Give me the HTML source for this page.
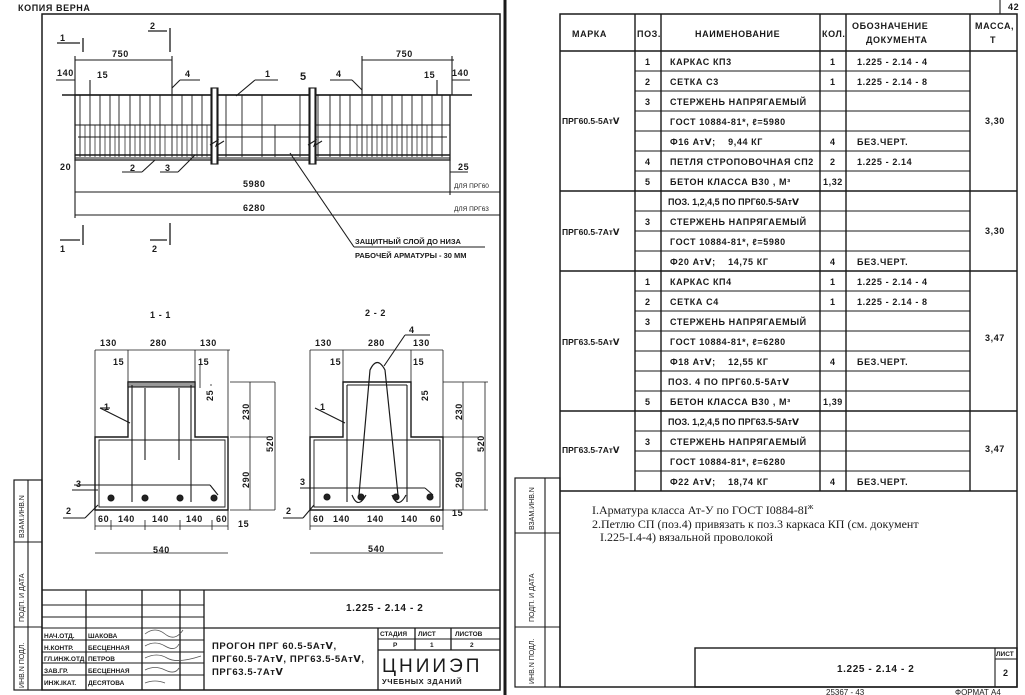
<!DOCTYPE html>
<html><head><meta charset="utf-8"><style>
html,body{margin:0;padding:0;background:#fff;}
svg{display:block;font-family:"Liberation Sans Narrow","Liberation Sans","DejaVu Sans",sans-serif;}
text{fill:#1a1a1a;}
.t{font-size:9px;letter-spacing:0.6px;font-weight:bold;}
.s{font-size:7.5px;}
.n{font-family:"Liberation Serif","DejaVu Serif",serif;font-size:12px;fill:#111;}
</style></head><body>
<svg width="1025" height="695" viewBox="0 0 1025 695" xmlns="http://www.w3.org/2000/svg" stroke="#1a1a1a" stroke-width="1.1" fill="none">
<!-- ================= LEFT SHEET ================= -->
<text x="18" y="11" class="t" stroke="none" fill="#666">КОПИЯ ВЕРНА</text>
<rect x="42" y="14" width="458" height="676" stroke-width="1.5"/>
<line x1="505" y1="0" x2="505" y2="695" stroke-width="3"/>
<!-- left strip -->
<rect x="14" y="480" width="28" height="210" stroke-width="1.2"/>
<line x1="28" y1="480" x2="28" y2="690"/>
<line x1="14" y1="542" x2="42" y2="542"/><line x1="14" y1="627" x2="42" y2="627"/>
<g stroke="none" font-size="7" fill="#222">
<text transform="translate(24,538) rotate(-90)">ВЗАМ.ИНВ.N</text>
<text transform="translate(24,622) rotate(-90)">ПОДП. И ДАТА</text>
<text transform="translate(24,688) rotate(-90)">ИНВ.N ПОДЛ.</text>
</g>
<!-- section marks -->
<g stroke-width="1.3">
<line x1="83" y1="38" x2="83" y2="52"/><line x1="57" y1="43" x2="80" y2="43"/>
<line x1="170" y1="28" x2="170" y2="52"/><line x1="148" y1="31" x2="167" y2="31"/>
<line x1="83" y1="225" x2="83" y2="245"/><line x1="60" y1="240" x2="80" y2="240"/>
<line x1="170" y1="223" x2="170" y2="245"/><line x1="150" y1="240" x2="167" y2="240"/>
</g>
<g stroke="none" class="t"><text x="60" y="41">1</text><text x="150" y="29">2</text><text x="60" y="252">1</text><text x="152" y="252">2</text></g>
<!-- dims top -->
<line x1="75" y1="60" x2="172" y2="60"/><line x1="75" y1="56" x2="75" y2="95"/><line x1="172" y1="56" x2="172" y2="95"/>
<line x1="362" y1="60" x2="454" y2="60"/><line x1="362" y1="56" x2="362" y2="95"/><line x1="452" y1="56" x2="452" y2="95"/>
<g stroke="none" class="t"><text x="112" y="57">750</text><text x="396" y="57">750</text>
<text x="57" y="76">140</text><text x="97" y="78">15</text><text x="424" y="78">15</text><text x="452" y="76">140</text>
<text x="185" y="77">4</text><text x="265" y="77">1</text><text x="300" y="80" font-size="11">5</text><text x="336" y="77">4</text>
<text x="130" y="171">2</text><text x="165" y="171">3</text><text x="60" y="170">20</text><text x="458" y="170">25</text>
<text x="243" y="187">5980</text><text x="243" y="211">6280</text></g>
<line x1="56" y1="80" x2="75" y2="80"/><line x1="452" y1="80" x2="470" y2="80"/>
<line x1="180" y1="80" x2="200" y2="80"/><line x1="172" y1="88" x2="180" y2="80"/>
<line x1="255" y1="80" x2="278" y2="80"/><line x1="236" y1="96" x2="255" y2="80"/>
<line x1="330" y1="80" x2="352" y2="80"/><line x1="352" y1="80" x2="362" y2="90"/>
<line x1="90" y1="80" x2="90" y2="95"/><line x1="437" y1="80" x2="437" y2="95"/>
<!-- beam -->
<line x1="62" y1="95" x2="472" y2="95" stroke-width="1.4"/>
<rect x="75" y="95" width="375" height="65" stroke-width="1.3"/>
<line x1="75" y1="125" x2="450" y2="125"/><line x1="78" y1="137" x2="447" y2="137"/>
<line x1="75" y1="155" x2="450" y2="155" stroke-width="1.6"/><line x1="75" y1="158" x2="450" y2="158"/>
<path d="M80 95V157M90 95V157M100 95V157M110 95V157M119 95V157M130 95V157M140 95V157M150 95V157M160 95V157M172 95V157M182 95V157M192 95V157M202 95V157M226 95V157M242 95V157M262 95V157M275 125V157M300 95V157M318 95V157M330 95V157M340 95V157M350 95V157M362 95V157M372 95V157M382 95V157M392 95V157M402 95V157M412 95V157M422 95V157M432 95V157M442 95V157" stroke-width="0.9"/>
<path d="M85 125V157M95 125V157M105 125V157M115 125V157M125 125V157M135 125V157M145 125V157M155 125V157M165 125V157M177 125V157M187 125V157M197 125V157M207 125V157M357 125V157M367 125V157M377 125V157M387 125V157M397 125V157M407 125V157M417 125V157M427 125V157" stroke-width="0.7"/>
<rect x="211" y="88" width="7" height="76" fill="#fff"/><line x1="212" y1="88" x2="212" y2="164"/><line x1="217" y1="88" x2="217" y2="164"/>
<rect x="309" y="88" width="7" height="76" fill="#fff"/><line x1="310" y1="88" x2="310" y2="164"/><line x1="315" y1="88" x2="315" y2="164"/>
<path d="M210 145l8-5-2 6 8-5" /><path d="M308 145l8-5-2 6 8-5"/>
<line x1="122" y1="172" x2="142" y2="172"/><line x1="142" y1="172" x2="155" y2="160"/>
<line x1="160" y1="172" x2="178" y2="172"/><line x1="178" y1="172" x2="195" y2="155"/>
<!-- bottom dims -->
<line x1="75" y1="192" x2="500" y2="192"/><line x1="75" y1="215" x2="500" y2="215"/>
<line x1="75" y1="160" x2="75" y2="218"/><line x1="450" y1="160" x2="450" y2="195"/>
<line x1="450" y1="172" x2="468" y2="172"/>
<g stroke="none" font-size="6.5"><text x="454" y="188">ДЛЯ ПРГ60</text><text x="454" y="211">ДЛЯ ПРГ63</text></g>
<line x1="290" y1="153" x2="354" y2="247"/><line x1="354" y1="247" x2="485" y2="247"/>
<g stroke="none" font-size="7.5" font-weight="bold"><text x="355" y="244">ЗАЩИТНЫЙ СЛОЙ ДО НИЗА</text><text x="355" y="258">РАБОЧЕЙ АРМАТУРЫ - 30 ММ</text></g>
<!-- section titles -->
<g stroke="none" class="t" font-size="10"><text x="150" y="318">1 - 1</text><text x="365" y="316">2 - 2</text>
<text x="100" y="346">130</text><text x="150" y="346">280</text><text x="200" y="346">130</text>
<text x="315" y="346">130</text><text x="368" y="346">280</text><text x="413" y="346">130</text></g>
<!-- section 1-1 -->
<g stroke-width="1.4">
<path d="M128 382H195V437H228V510H95V437H128Z"/>
<path d="M131 385H192M99 440H225V507H99Z" stroke-width="0.9"/>
</g>
<rect x="128" y="382" width="67" height="5" fill="#999"/>
<line x1="132" y1="385" x2="132" y2="502"/><line x1="191" y1="385" x2="191" y2="502"/>
<line x1="145" y1="388" x2="145" y2="460"/><line x1="179" y1="388" x2="179" y2="460"/>
<line x1="72" y1="490" x2="98" y2="490"/><line x1="74" y1="485" x2="210" y2="485"/><line x1="210" y1="485" x2="218" y2="495"/>
<line x1="100" y1="408" x2="130" y2="423"/><line x1="100" y1="408" x2="110" y2="408"/>
<line x1="63" y1="518" x2="85" y2="518"/><line x1="85" y1="518" x2="98" y2="505"/>
<g fill="#222"><circle cx="111" cy="498" r="3"/><circle cx="145" cy="498" r="3"/><circle cx="180" cy="498" r="3"/><circle cx="214" cy="498" r="3"/></g>
<path d="M95 350H230M95 350V530M128 350V382M195 350V382M228 350V530M95 526H228M95 553H228M145 520V530M180 520V530M212 520V530M111 520V530M250 382V510M230 382H275M230 437H270M230 510H275M275 382V510M210 385H212M200 365V388" stroke-width="0.8"/>
<g stroke="none" class="t"><text x="113" y="365">15</text><text x="198" y="365">15</text><text x="238" y="527">15</text><text x="104" y="410">1</text>
<text x="76" y="487">3</text><text x="66" y="514">2</text>
<text x="98" y="522">60</text><text x="118" y="522">140</text><text x="152" y="522">140</text><text x="186" y="522">140</text><text x="216" y="522">60</text>
<text x="153" y="553">540</text>
<text transform="translate(249,420) rotate(-90)">230</text><text transform="translate(249,488) rotate(-90)">290</text><text transform="translate(273,452) rotate(-90)">520</text><text transform="translate(213,401) rotate(-90)">25</text></g>
<!-- section 2-2 -->
<g stroke-width="1.4">
<path d="M343 382H411V437H443V510H310V437H343Z"/>
<path d="M347 385H407M314 440H440V507H314Z" stroke-width="0.9"/>
</g>
<path d="M359 495L370 370Q377 355 385 370L398 495" stroke-width="1.2"/>
<path d="M352 495Q358 510 366 495M392 495Q398 510 406 495"/>
<line x1="347" y1="385" x2="347" y2="502"/><line x1="407" y1="385" x2="407" y2="502"/>
<line x1="384" y1="366" x2="405" y2="335"/><line x1="405" y1="335" x2="430" y2="335"/>
<line x1="300" y1="488" x2="425" y2="488"/><line x1="425" y1="488" x2="433" y2="495"/>
<line x1="315" y1="408" x2="345" y2="423"/>
<line x1="283" y1="518" x2="303" y2="518"/><line x1="303" y1="518" x2="314" y2="505"/>
<g fill="#222"><circle cx="327" cy="497" r="3"/><circle cx="361" cy="497" r="3"/><circle cx="396" cy="497" r="3"/><circle cx="430" cy="497" r="3"/></g>
<path d="M310 350H443M310 350V530M343 350V382M411 350V382M443 350V530M310 526H443M310 553H443M463 382V510M443 382H488M443 437H478M443 510H488M485 382V510" stroke-width="0.8"/>
<g stroke="none" class="t"><text x="330" y="365">15</text><text x="413" y="365">15</text><text x="452" y="516">15</text><text x="320" y="410">1</text><text x="409" y="333">4</text>
<text x="300" y="485">3</text><text x="286" y="514">2</text>
<text x="313" y="522">60</text><text x="333" y="522">140</text><text x="367" y="522">140</text><text x="401" y="522">140</text><text x="430" y="522">60</text>
<text x="368" y="552">540</text>
<text transform="translate(462,420) rotate(-90)">230</text><text transform="translate(462,488) rotate(-90)">290</text><text transform="translate(484,452) rotate(-90)">520</text><text transform="translate(428,401) rotate(-90)">25</text></g>
<!-- title block -->
<g stroke-width="1.3">
<line x1="42" y1="590" x2="500" y2="590"/><line x1="204" y1="628" x2="500" y2="628"/>
<line x1="86" y1="590" x2="86" y2="690"/><line x1="142" y1="590" x2="142" y2="690"/><line x1="180" y1="590" x2="180" y2="690"/><line x1="204" y1="590" x2="204" y2="690"/>
<line x1="378" y1="628" x2="378" y2="690"/><line x1="378" y1="650" x2="500" y2="650"/>
<line x1="415" y1="628" x2="415" y2="650"/><line x1="451" y1="628" x2="451" y2="650"/>
</g>
<path d="M42 605H204M42 617H204M42 628H204M42 640H204M42 652H204M42 663H204M42 675H204" stroke-width="0.9"/>
<line x1="378" y1="639" x2="500" y2="639" stroke-width="0.9"/>
<g stroke="none" font-size="6.5" font-weight="bold"><text x="44" y="638">НАЧ.ОТД.</text><text x="44" y="650">Н.КОНТР.</text><text x="44" y="661">ГЛ.ИНЖ.ОТД</text><text x="44" y="673">ЗАВ.ГР.</text><text x="44" y="685">ИНЖ.IКАТ.</text>
<text x="88" y="638">ШАКОВА</text><text x="88" y="650">БЕСЦЕННАЯ</text><text x="88" y="661">ПЕТРОВ</text><text x="88" y="673">БЕСЦЕННАЯ</text><text x="88" y="685">ДЕСЯТОВА</text>
<text x="380" y="636">СТАДИЯ</text><text x="418" y="636">ЛИСТ</text><text x="455" y="636">ЛИСТОВ</text><text x="393" y="647">Р</text><text x="430" y="647">1</text><text x="470" y="647">2</text></g>
<g stroke="none" class="t"><text x="346" y="611" font-size="10">1.225 - 2.14 - 2</text>
<text x="212" y="649" font-size="9.5">ПРОГОН ПРГ 60.5-5АтⅤ,</text><text x="212" y="662" font-size="9.5">ПРГ60.5-7АтⅤ, ПРГ63.5-5АтⅤ,</text><text x="212" y="675" font-size="9.5">ПРГ63.5-7АтⅤ</text>
<text x="382" y="672" font-size="19" font-weight="normal" letter-spacing="3">ЦНИИЭП</text><text x="382" y="684" font-size="7.5">УЧЕБНЫХ ЗДАНИЙ</text></g>
<g stroke="#555" stroke-width="0.8"><path d="M145 634q10-8 20 0t18-4M145 646q10-6 20 0t14-2M145 658q12-6 22 0t34-2M145 670q10-5 20 0t14-2M145 683q10-4 20 0"/></g>

<!-- ================= RIGHT SHEET ================= -->
<line x1="1000" y1="0" x2="1000" y2="14"/><text x="1008" y="10" class="t" stroke="none">42</text>
<rect x="560" y="14" width="457" height="673" stroke-width="1.5"/>
<rect x="515" y="478" width="45" height="209" stroke-width="1.2"/>
<line x1="545" y1="478" x2="545" y2="687"/>
<line x1="515" y1="533" x2="560" y2="533"/><line x1="515" y1="627" x2="560" y2="627"/>
<g stroke="none" font-size="7" fill="#222">
<text transform="translate(534,530) rotate(-90)">ВЗАМ.ИНВ.N</text>
<text transform="translate(534,622) rotate(-90)">ПОДП. И ДАТА</text>
<text transform="translate(534,684) rotate(-90)">ИНВ.N ПОДЛ.</text>
</g>
<!-- table -->
<g stroke-width="1.4">
<line x1="560" y1="51" x2="1017" y2="51"/><line x1="560" y1="191" x2="1017" y2="191"/><line x1="560" y1="271" x2="1017" y2="271"/><line x1="560" y1="411" x2="1017" y2="411"/><line x1="560" y1="491" x2="1017" y2="491"/>
<line x1="635" y1="14" x2="635" y2="491"/><line x1="661" y1="14" x2="661" y2="491"/><line x1="820" y1="14" x2="820" y2="491"/><line x1="846" y1="14" x2="846" y2="491"/><line x1="970" y1="14" x2="970" y2="491"/>
</g>
<path d="M635 71H970M635 91H970M635 111H970M635 131H970M635 151H970M635 171H970M635 211H970M635 231H970M635 251H970M635 291H970M635 311H970M635 331H970M635 351H970M635 371H970M635 391H970M635 431H970M635 451H970M635 471H970" stroke-width="1"/>
<g stroke="none" class="t">
<text x="572" y="37">МАРКА</text><text x="637" y="37">ПОЗ.</text><text x="695" y="37">НАИМЕНОВАНИЕ</text><text x="822" y="37">КОЛ.</text><text x="852" y="29">ОБОЗНАЧЕНИЕ</text><text x="866" y="43">ДОКУМЕНТА</text><text x="975" y="29">МАССА,</text><text x="990" y="43">Т</text>
<text x="562" y="124" font-size="8.5" letter-spacing="0">ПРГ60.5-5АтⅤ</text><text x="985" y="124">3,30</text>
<text x="562" y="235" font-size="8.5" letter-spacing="0">ПРГ60.5-7АтⅤ</text><text x="985" y="234">3,30</text>
<text x="562" y="345" font-size="8.5" letter-spacing="0">ПРГ63.5-5АтⅤ</text><text x="985" y="341">3,47</text>
<text x="562" y="453" font-size="8.5" letter-spacing="0">ПРГ63.5-7АтⅤ</text><text x="985" y="452">3,47</text>
<!-- group1 -->
<text x="645" y="65">1</text><text x="670" y="65">КАРКАС КП3</text><text x="830" y="65">1</text><text x="857" y="65">1.225 - 2.14 - 4</text>
<text x="645" y="85">2</text><text x="670" y="85">СЕТКА С3</text><text x="830" y="85">1</text><text x="857" y="85">1.225 - 2.14 - 8</text>
<text x="645" y="105">3</text><text x="670" y="105">СТЕРЖЕНЬ НАПРЯГАЕМЫЙ</text>
<text x="670" y="125">ГОСТ 10884-81*, ℓ=5980</text>
<text x="670" y="145">Ф16 АтⅤ;&#160;&#160;&#160;&#160;9,44 КГ</text><text x="830" y="145">4</text><text x="857" y="145">БЕЗ.ЧЕРТ.</text>
<text x="645" y="165">4</text><text x="670" y="165">ПЕТЛЯ СТРОПОВОЧНАЯ СП2</text><text x="830" y="165">2</text><text x="857" y="165">1.225 - 2.14</text>
<text x="645" y="185">5</text><text x="670" y="185">БЕТОН КЛАССА В30 , М³</text><text x="823" y="185">1,32</text>
<!-- group2 -->
<text x="668" y="205" letter-spacing="0">ПОЗ. 1,2,4,5 ПО ПРГ60.5-5АтⅤ</text>
<text x="645" y="225">3</text><text x="670" y="225">СТЕРЖЕНЬ НАПРЯГАЕМЫЙ</text>
<text x="670" y="245">ГОСТ 10884-81*, ℓ=5980</text>
<text x="670" y="265">Ф20 АтⅤ;&#160;&#160;&#160;&#160;14,75 КГ</text><text x="830" y="265">4</text><text x="857" y="265">БЕЗ.ЧЕРТ.</text>
<!-- group3 -->
<text x="645" y="285">1</text><text x="670" y="285">КАРКАС КП4</text><text x="830" y="285">1</text><text x="857" y="285">1.225 - 2.14 - 4</text>
<text x="645" y="305">2</text><text x="670" y="305">СЕТКА С4</text><text x="830" y="305">1</text><text x="857" y="305">1.225 - 2.14 - 8</text>
<text x="645" y="325">3</text><text x="670" y="325">СТЕРЖЕНЬ НАПРЯГАЕМЫЙ</text>
<text x="670" y="345">ГОСТ 10884-81*, ℓ=6280</text>
<text x="670" y="365">Ф18 АтⅤ;&#160;&#160;&#160;&#160;12,55 КГ</text><text x="830" y="365">4</text><text x="857" y="365">БЕЗ.ЧЕРТ.</text>
<text x="668" y="385">ПОЗ. 4 ПО ПРГ60.5-5АтⅤ</text>
<text x="645" y="405">5</text><text x="670" y="405">БЕТОН КЛАССА В30 , М³</text><text x="823" y="405">1,39</text>
<!-- group4 -->
<text x="668" y="425" letter-spacing="0">ПОЗ. 1,2,4,5 ПО ПРГ63.5-5АтⅤ</text>
<text x="645" y="445">3</text><text x="670" y="445">СТЕРЖЕНЬ НАПРЯГАЕМЫЙ</text>
<text x="670" y="465">ГОСТ 10884-81*, ℓ=6280</text>
<text x="670" y="485">Ф22 АтⅤ;&#160;&#160;&#160;&#160;18,74 КГ</text><text x="830" y="485">4</text><text x="857" y="485">БЕЗ.ЧЕРТ.</text>
</g>
<g stroke="none" class="n">
<text x="592" y="514">I.Арматура класса Ат-У по ГОСТ I0884-8I<tspan font-size="8" dy="-5">ж</tspan></text>
<text x="592" y="528">2.Петлю СП (поз.4) привязать к поз.3 каркаса КП (см. документ</text>
<text x="600" y="541">I.225-I.4-4) вязальной проволокой</text>
</g>
<!-- stamp -->
<rect x="695" y="648" width="322" height="39" stroke-width="1.4"/>
<line x1="995" y1="648" x2="995" y2="687"/><line x1="995" y1="659" x2="1017" y2="659"/>
<g stroke="none" class="t"><text x="996" y="656" font-size="6.5" letter-spacing="0">ЛИСТ</text><text x="1003" y="676">2</text><text x="837" y="672" font-size="10">1.225 - 2.14 - 2</text></g>
<g stroke="none" font-size="8" fill="#444"><text x="826" y="695">25367 - 43</text><text x="955" y="695">ФОРМАТ А4</text></g>
</svg>
</body></html>
